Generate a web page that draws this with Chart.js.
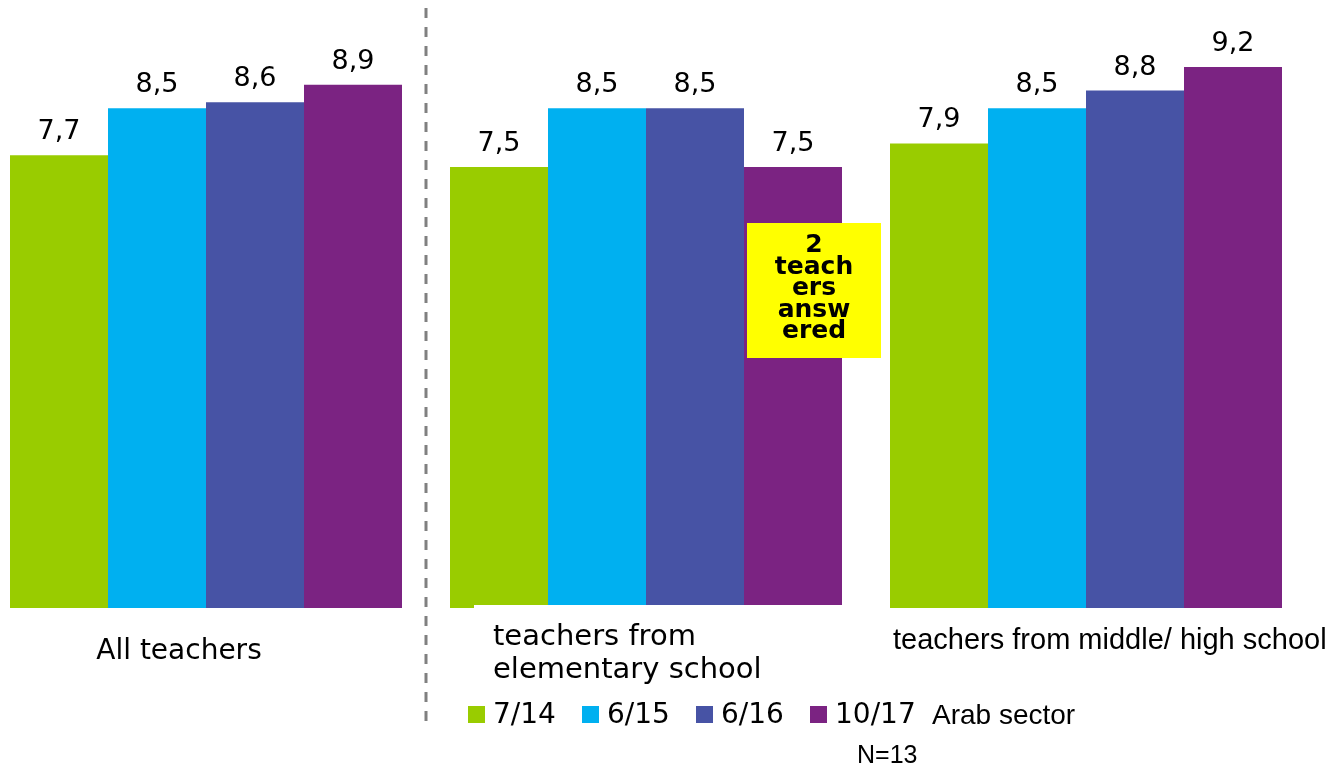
<!DOCTYPE html>
<html>
<head>
<meta charset="utf-8">
<script src="https://cdn.jsdelivr.net/npm/chart.js@4.4.0/dist/chart.umd.min.js"></script>
<style>
  html, body { margin: 0; padding: 0; background: #fff; overflow: hidden; }
  #wrap { position: absolute; left: -14px; top: 0; width: 1352px; height: 764px; }
</style>
</head>
<body>
<div id="wrap"><canvas id="teachersChart"></canvas></div>
<script>
// values
const categories = ['All teachers', ['teachers from', 'elementary school'], 'teachers from middle/ high school'];
const seriesLabels = ['7/14', '6/15', '6/16', '10/17'];
const jul14 = [7.7, 7.5, 7.9];
const jun15 = [8.5, 8.5, 8.5];
const jun16 = [8.6, 8.5, 8.8];
const oct17 = [8.9, 7.5, 9.2];
const noteLines = ['2', 'teach', 'ers', 'answ', 'ered'];
const sectorLabel = 'Arab sector';
const sampleLabel = 'N=13';

const colors = ['#99CC00', '#00B0F0', '#4753A5', '#7B2382'];
const SHIFT = 14; // canvas is moved 14px to the left of the page

const VERDANA = '"DejaVu Sans", Verdana, sans-serif';
const ARIAL = '"Liberation Sans", Arial, sans-serif';

const decorations = {
  id: 'decorations',
  afterDatasetsDraw(chart) {
    const ctx = chart.ctx;
    ctx.save();

    // value labels above every bar
    ctx.fillStyle = '#000';
    ctx.font = '27px ' + VERDANA;
    ctx.textAlign = 'center';
    ctx.textBaseline = 'alphabetic';
    chart.data.datasets.forEach((ds, i) => {
      chart.getDatasetMeta(i).data.forEach((bar, j) => {
        ctx.fillText(String(ds.data[j]).replace('.', ','), bar.x, bar.y - 16);
      });
    });

    // white box under the elementary school bars
    ctx.fillStyle = '#fff';
    ctx.fillRect(474 + SHIFT, 605, 410, 10);

    // group labels
    ctx.fillStyle = '#000';
    ctx.font = '28px ' + VERDANA;
    ctx.textAlign = 'center';
    ctx.fillText(categories[0], 179 + SHIFT, 659);
    ctx.textAlign = 'left';
    ctx.font = '29px ' + VERDANA;
    ctx.fillText(categories[1][0], 493 + SHIFT, 645);
    ctx.fillText(categories[1][1], 493 + SHIFT, 678);
    ctx.font = '29px ' + ARIAL;
    ctx.fillText(categories[2], 893 + SHIFT, 649);

    // yellow note on the 10/17 elementary bar
    ctx.fillStyle = '#FFFF00';
    ctx.fillRect(747 + SHIFT, 223, 134, 135);
    ctx.fillStyle = '#000';
    ctx.font = 'bold 25px ' + VERDANA;
    ctx.textAlign = 'center';
    noteLines.forEach((line, k) => {
      ctx.fillText(line, 814 + SHIFT, 252 + k * 21.5);
    });

    // dashed separator
    ctx.strokeStyle = '#808080';
    ctx.lineWidth = 3;
    ctx.setLineDash([10, 9]);
    ctx.beginPath();
    ctx.moveTo(426 + SHIFT, 8);
    ctx.lineTo(426 + SHIFT, 727);
    ctx.stroke();
    ctx.setLineDash([]);

    // legend
    const legendX = [468, 582, 696, 810];
    ctx.font = '28px ' + VERDANA;
    ctx.textAlign = 'left';
    seriesLabels.forEach((lab, i) => {
      ctx.fillStyle = colors[i];
      ctx.fillRect(legendX[i] + SHIFT, 706, 17, 17);
      ctx.fillStyle = '#000';
      ctx.fillText(lab, legendX[i] + 25 + SHIFT, 723);
    });
    ctx.font = '28px ' + ARIAL;
    ctx.fillText(sectorLabel, 932 + SHIFT, 724);
    ctx.font = '25px ' + ARIAL;
    ctx.fillText(sampleLabel, 857 + SHIFT, 763);

    ctx.restore();
  }
};

function renderChart() {
  const seriesValues = [jul14, jun15, jun16, oct17];
  const ctx = document.getElementById('teachersChart').getContext('2d');
  new Chart(ctx, {
    type: 'bar',
    data: {
      labels: categories,
      datasets: seriesLabels.map((lab, i) => ({
        label: lab,
        data: seriesValues[i],
        backgroundColor: colors[i],
        borderWidth: 0,
        barPercentage: 1,
        categoryPercentage: 392 / 440
      }))
    },
    options: {
      responsive: true,
      maintainAspectRatio: false,
      animation: false,
      layout: { padding: { top: 20, bottom: 156, left: 0, right: 32 } },
      plugins: { legend: { display: false }, tooltip: { enabled: false } },
      scales: {
        x: { display: false },
        y: { display: false, min: 0, max: 10 }
      }
    },
    plugins: [decorations]
  });
}

renderChart();
</script>
</body>
</html>
